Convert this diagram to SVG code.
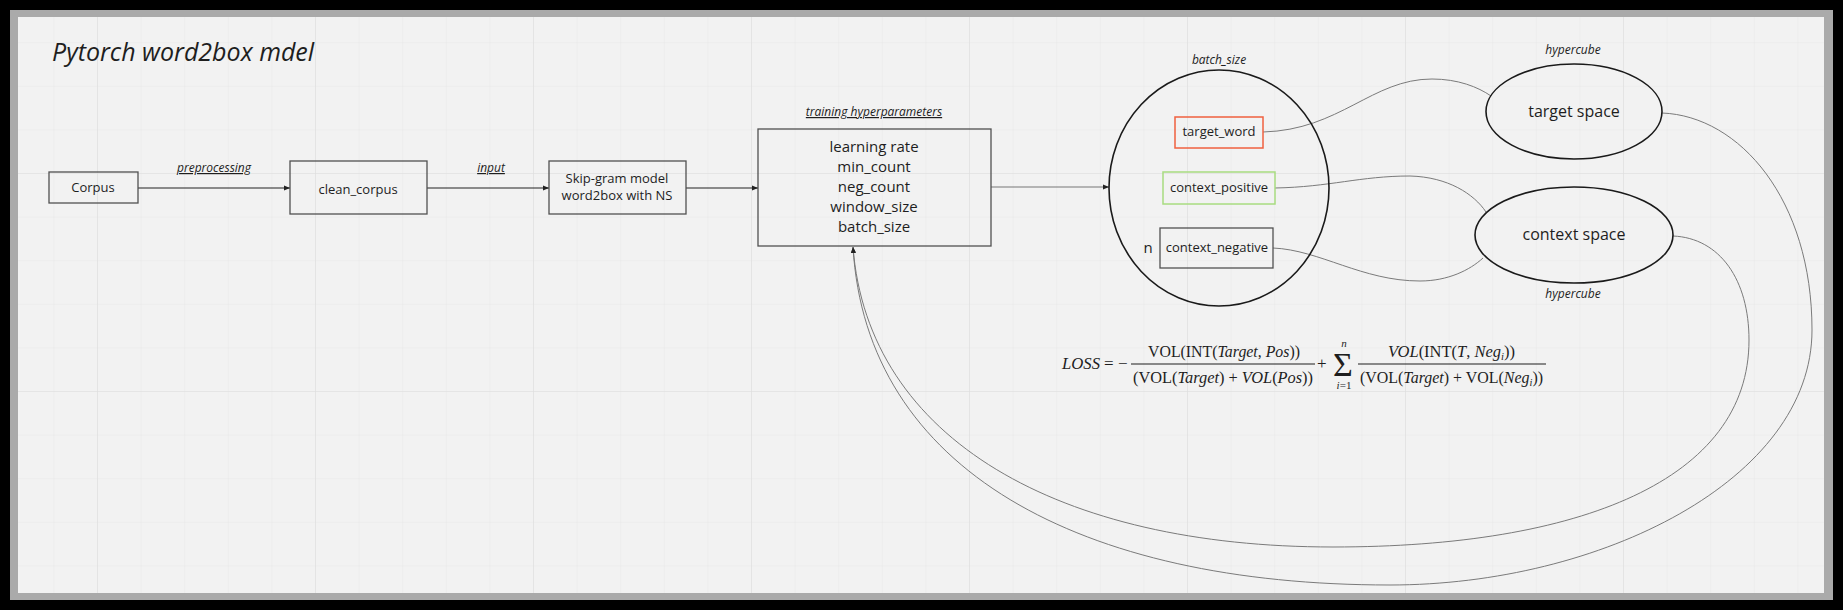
<svg xmlns="http://www.w3.org/2000/svg" width="1843" height="610" viewBox="0 0 1843 610">
<defs>
<pattern id="gmin" patternUnits="userSpaceOnUse" x="9.8" y="-1.4" width="43.6" height="43.6">
<path d="M0,0 V43.6 M0,0 H43.6" stroke="#e7e7e7" stroke-width="1" fill="none"/>
</pattern>
<pattern id="gmaj" patternUnits="userSpaceOnUse" x="97" y="173" width="218" height="218">
<path d="M0,0 V218 M0,0 H218" stroke="#dedede" stroke-width="1.2" fill="none"/>
</pattern>
<marker id="ah" markerUnits="userSpaceOnUse" markerWidth="8" markerHeight="8" refX="6" refY="4" orient="auto">
<path d="M0,1.5 L6,4 L0,6.5 z" fill="#222"/>
</marker>
<style>
.t{font-family:"Open Sans","Noto Sans",sans-serif;fill:#1e1e1e;text-anchor:middle}
.lbl{font-family:"Open Sans","Noto Sans",sans-serif;fill:#1e1e1e;font-style:italic;font-size:12px;text-anchor:middle}
.u{text-decoration:underline}
.box{fill:none;stroke:#505050;stroke-width:1.3}
.ell{fill:none;stroke:#1a1a1a;stroke-width:1.6}
.arr{fill:none;stroke:#222;stroke-width:1.2;marker-end:url(#ah)}
.cv{fill:none;stroke:#7a7a7a;stroke-width:1}
.m{font-family:"Liberation Serif","DejaVu Serif",serif;fill:#1e1e1e;font-size:17px}
.i{font-style:italic}
</style>
</defs>
<rect x="0" y="0" width="1843" height="610" fill="#000"/>
<rect x="10" y="10" width="1823" height="590" fill="#aaaaaa"/>
<rect x="18" y="17" width="1806" height="576" fill="#f2f2f2"/>
<rect x="18" y="17" width="1806" height="576" fill="url(#gmin)"/>
<rect x="18" y="17" width="1806" height="576" fill="url(#gmaj)"/>

<text x="52" y="61" font-family="'Open Sans','Noto Sans',sans-serif" font-style="italic" font-size="25" fill="#1e1e1e">Pytorch word2box mdel</text>

<g id="connectors">
<line class="arr" x1="138" y1="188" x2="290" y2="188"/>
<line class="arr" x1="427" y1="188" x2="549" y2="188"/>
<line class="arr" x1="686" y1="188" x2="758" y2="188"/>
<line class="arr" x1="991" y1="187" x2="1109" y2="187" style="stroke:#777"/>
<path class="cv" d="M1263,132 C1340,130 1372,79 1432,79 C1458,79 1478,87 1491,96"/>
<path class="cv" d="M1275,188 C1330,187 1360,176 1410,176 C1448,177 1474,194 1486,212"/>
<path class="cv" d="M1273,248 C1320,250 1362,281 1420,281 C1448,281 1470,270 1483,258"/>
<path class="cv" d="M1662,113 C1740,116 1812,200 1812,330 C1812,480 1600,585 1390,585 C1080,585 866,470 853,247" marker-end="url(#ah)"/>
<path class="cv" d="M1673,236 C1720,238 1749,280 1749,340 C1749,480 1580,547 1333,547 C1060,547 868,440 853,247" marker-end="url(#ah)"/>
<text class="lbl u" x="214" y="172">preprocessing</text>
<text class="lbl u" x="491" y="172">input</text>
</g>

<g id="corpus">
<rect class="box" x="49" y="172" width="89" height="31"/>
<text class="t" x="93" y="192" font-size="13">Corpus</text>
</g>
<g id="clean_corpus">
<rect class="box" x="290" y="161" width="137" height="53"/>
<text class="t" x="358" y="194" font-size="13">clean_corpus</text>
</g>
<g id="skipgram">
<rect class="box" x="549" y="161" width="137" height="53"/>
<text class="t" x="617" y="183" font-size="13">Skip-gram model</text>
<text class="t" x="617" y="200" font-size="13">word2box with NS</text>
</g>
<g id="hyperparams">
<text class="lbl u" x="874" y="116">training hyperparameters</text>
<rect class="box" x="758" y="129" width="233" height="117"/>
<text class="t" x="874" y="152" font-size="15">learning rate</text>
<text class="t" x="874" y="172" font-size="15">min_count</text>
<text class="t" x="874" y="192" font-size="15">neg_count</text>
<text class="t" x="874" y="212" font-size="15">window_size</text>
<text class="t" x="874" y="232" font-size="15">batch_size</text>
</g>
<g id="batch">
<text class="lbl" x="1219" y="64">batch_size</text>
<ellipse class="ell" cx="1219" cy="188" rx="110" ry="118"/>
</g>
<g id="target_word">
<rect x="1175" y="117" width="88" height="31" fill="none" stroke="#f0603f" stroke-width="1.5"/>
<text class="t" x="1219" y="136" font-size="13">target_word</text>
</g>
<g id="context_positive">
<rect x="1163" y="172" width="112" height="32" fill="none" stroke="#a8dc80" stroke-width="1.5"/>
<text class="t" x="1219" y="192" font-size="13">context_positive</text>
</g>
<g id="context_negative">
<rect class="box" x="1160" y="228" width="113" height="40"/>
<text class="t" x="1217" y="252" font-size="13">context_negative</text>
<text class="t" x="1148" y="253" font-size="15">n</text>
</g>
<g id="target_space">
<text class="lbl" x="1573" y="54">hypercube</text>
<ellipse class="ell" cx="1574" cy="111.5" rx="88" ry="47.5"/>
<text class="t" x="1574" y="117" font-size="16">target space</text>
</g>
<g id="context_space">
<ellipse class="ell" cx="1574" cy="235" rx="99" ry="48"/>
<text class="t" x="1574" y="240" font-size="16">context space</text>
<text class="lbl" x="1573" y="298">hypercube</text>
</g>

<g id="loss">
<text class="m i" x="1062" y="369" textLength="38" lengthAdjust="spacingAndGlyphs">LOSS</text>
<text class="m" x="1104" y="369">=</text>
<text class="m" x="1118" y="369">−</text>
<text class="m" x="1148" y="357" textLength="152" lengthAdjust="spacingAndGlyphs">VOL(INT(<tspan class="i">Target</tspan>, <tspan class="i">Pos</tspan>))</text>
<line x1="1131" y1="364" x2="1315" y2="364" stroke="#1e1e1e" stroke-width="1.2"/>
<text class="m" x="1133" y="383" textLength="180" lengthAdjust="spacingAndGlyphs">(VOL(<tspan class="i">Target</tspan>) + <tspan class="i">VOL</tspan>(<tspan class="i">Pos</tspan>))</text>
<text class="m" x="1317" y="369">+</text>
<text class="m" x="1343" y="376" style="font-size:34px" text-anchor="middle">Σ</text>
<text class="m i" x="1344" y="347" style="font-size:11px" text-anchor="middle">n</text>
<text class="m" x="1344" y="389" style="font-size:11px" text-anchor="middle"><tspan class="i">i</tspan>=1</text>
<text class="m" x="1388" y="357" textLength="127" lengthAdjust="spacingAndGlyphs"><tspan class="i">VOL</tspan>(INT(<tspan class="i">T</tspan>, <tspan class="i">Neg</tspan><tspan class="i" style="font-size:11px" dy="3">i</tspan><tspan dy="-3">))</tspan></text>
<line x1="1358" y1="364" x2="1546" y2="364" stroke="#1e1e1e" stroke-width="1.2"/>
<text class="m" x="1360" y="383" textLength="183" lengthAdjust="spacingAndGlyphs">(VOL(<tspan class="i">Target</tspan>) + VOL(<tspan class="i">Neg</tspan><tspan class="i" style="font-size:11px" dy="3">i</tspan><tspan dy="-3">))</tspan></text>
</g>
</svg>
